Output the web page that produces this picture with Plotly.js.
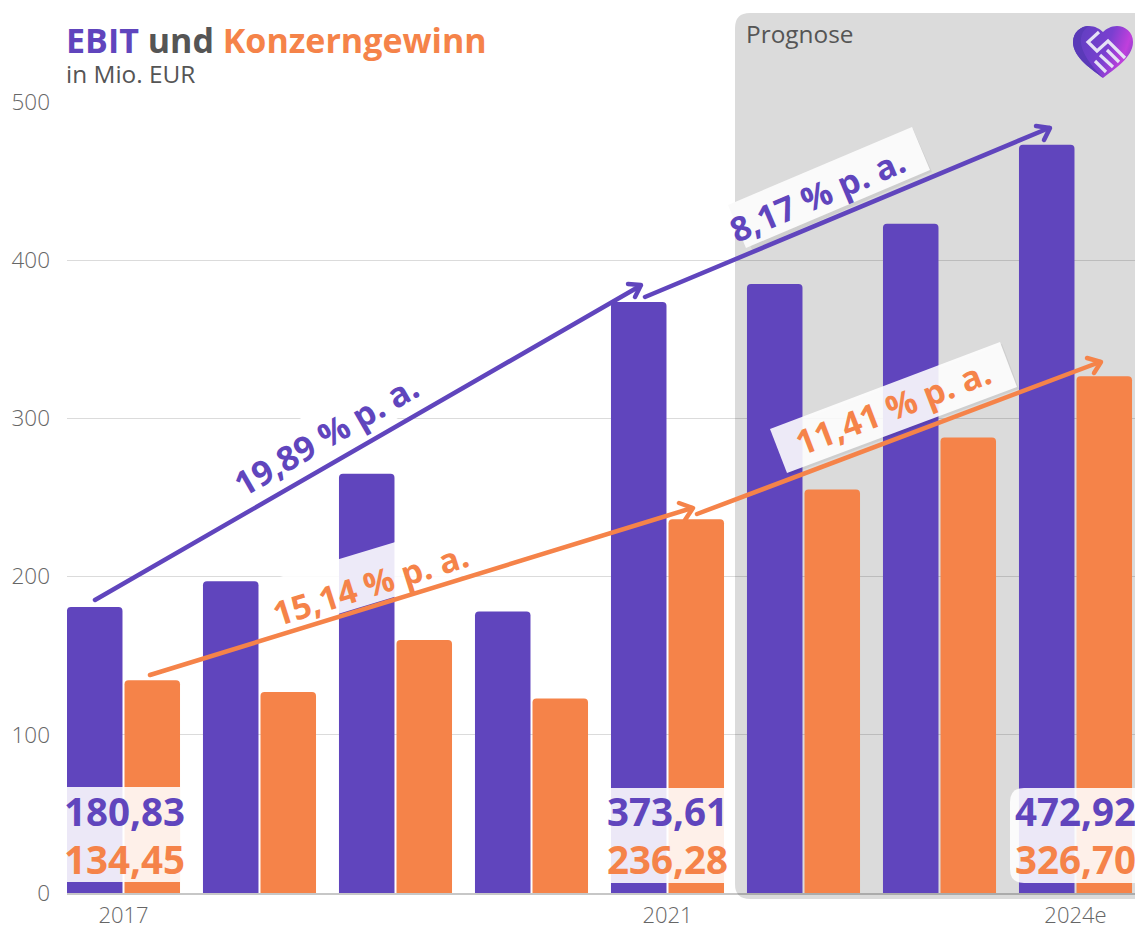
<!DOCTYPE html>
<html>
<head>
<meta charset="utf-8">
<script src="https://cdn.plot.ly/plotly-3.0.1.min.js"></script>
<style>html,body{margin:0;padding:0;background:#fff;overflow:hidden}
.shapelayer path{stroke-linejoin:round;stroke-linecap:round}</style>
</head>
<body>
<div id="chart" style="width:1135px;height:926px"></div>
<script>
var categories = ["2017","2018","2019","2020","2021","2022e","2023e","2024e"];
var ebit = [180.83,197,265,178,373.61,385,423,472.92];
var gewinn = [134.45,127,160,123,236.28,255,288,326.70];
var xTicks = ["2017","2021","2024e"];
var yTicks = [0,100,200,300,400,500];
var ebitLabels = ["180,83","373,61","472,92"];
var gewinnLabels = ["134,45","236,28","326,70"];

var PURPLE="#6045bd", ORANGE="#f58349", W=1135, H=926;
var L=67, B=893, T=102;
function px(x){return (x-L)/(W-L);}
function py(y){return (B-y)/(B-T);}
function pathOf(pts,close){
  return pts.map(function(p,i){return (i?"L":"M")+px(p[0])+" "+py(p[1]);}).join(" ")+(close?" Z":"");
}
function poly(pts,fill){
  return {type:"path",layer:"above",xref:"paper",yref:"paper",path:pathOf(pts,true),fillcolor:fill,line:{width:0}};
}
function stroke(pts,color,w){
  return {type:"path",layer:"above",xref:"paper",yref:"paper",path:pathOf(pts,false),fillcolor:"rgba(0,0,0,0)",line:{color:color,width:w}};
}
function roundBox(x0,y0,x1,y1,r,fill,layer){
  var q=function(a,b){return px(a)+" "+py(b);};
  return {type:"path",layer:layer,xref:"paper",yref:"paper",fillcolor:fill,line:{width:0},
    path:"M"+q(x0+r,y0)+" L"+q(x1,y0)+" L"+q(x1,y1)+" L"+q(x0+r,y1)+" Q"+q(x0,y1)+" "+q(x0,y1-r)+" L"+q(x0,y0+r)+" Q"+q(x0,y0)+" "+q(x0+r,y0)+" Z"};
}
function txt(s,x,y,size,color,opts){
  opts=opts||{};
  return {xref:"paper",yref:"paper",x:px(x),y:py(y),text:s,showarrow:false,
    xanchor:opts.anchor||"center",yanchor:"middle",textangle:opts.angle||0,
    font:{family:"'Open Sans'",size:size,color:color,weight:opts.weight||400},align:"left"};
}

var shapes=[
  roundBox(735,13,1135,899,15,"#dbdbdb","below"),
  // rotated label backgrounds
  poly([[225,462],[400,361],[424,403],[249,504]],"#ffffff"),
  poly([[270,580],[478,517],[493,567],[285,630]],"rgba(255,255,255,0.89)"),
  poly([[735,206],[913,129],[932,172],[752,250]],"rgba(0,0,0,0.06)"),
  poly([[728,205],[912,127],[930,170],[746,248]],"rgba(250,250,250,1)"),
  poly([[772,431],[1002,344],[1019,389],[789,475]],"rgba(0,0,0,0.06)"),
  poly([[770,429],[1000,342],[1017,387],[787,473]],"rgba(255,255,255,0.89)"),
  // value label backgrounds
  poly([[67,787],[180,787],[180,882],[67,882]],"rgba(255,255,255,0.88)"),
  poly([[610,788],[725,788],[725,883],[610,883]],"rgba(255,255,255,0.88)"),
  roundBox(1010,788,1135,883,14,"rgba(255,255,255,0.88)","above"),
  // arrows
  stroke([[95,600],[640,286]],PURPLE,4.5),
  stroke([[628,284],[641,285],[635,297]],PURPLE,4.5),
  stroke([[645,297],[1049,128]],PURPLE,4.5),
  stroke([[1036,126],[1050,128],[1044,140]],PURPLE,4.5),
  stroke([[150,675],[692,508]],ORANGE,4.5),
  stroke([[679,503],[693,508],[685,520]],ORANGE,4.5),
  stroke([[697,514],[1100,362]],ORANGE,4.5),
  stroke([[1087,358],[1101,362],[1094,373]],ORANGE,4.5)
];

var annotations=[
  txt('<span style="color:'+PURPLE+'">EBIT</span> <span style="color:#555">und</span> <span style="color:'+ORANGE+'">Konzerngewinn</span>',64,40,34,"#555",{anchor:"left",weight:700}),
  txt("in Mio. EUR",64,74,24.4,"#555",{anchor:"left"}),
  txt("Prognose",744,34,24.4,"#555",{anchor:"left"}),
  txt("19,89 % p. a.",326,435,34,PURPLE,{angle:-30,weight:700}),
  txt("15,14 % p. a.",370,584,33.5,ORANGE,{angle:-17.5,weight:700}),
  txt("8,17 % p. a.",817,195,34,PURPLE,{angle:-23,weight:700}),
  txt("11,41 % p. a.",893,407,34,ORANGE,{angle:-21,weight:700})
];
var labelX=[124.5,667,1075];
labelX.forEach(function(x,i){
  annotations.push(txt(ebitLabels[i],x,811,38.5,PURPLE,{weight:700}));
  annotations.push(txt(gewinnLabels[i],x,859,38.5,ORANGE,{weight:700}));
});

var logoSvg='<svg xmlns="http://www.w3.org/2000/svg" viewBox="0 0 70 66"><defs><linearGradient id="g" x1="0" y1="0.3" x2="1" y2="0.6"><stop offset="0" stop-color="#5f3fc0"/><stop offset="0.55" stop-color="#7a3fd0"/><stop offset="0.85" stop-color="#c03fdc"/><stop offset="1" stop-color="#8a40cc"/></linearGradient></defs>'+
 '<path fill="url(#g)" d="M38 60C28 52 8 40 8 24C8 14 16 8 24 8C30 8 35 11 38 14C41 11 46 8 52 8C60 8 68 14 68 24C68 40 48 52 38 60Z"/>'+
 '<path fill="#5a3ab8" d="M38 60C28 52 8 40 8 24C8 14 16 8 24 8C17 12 14 20 17 30C20 40 30 52 38 60Z"/>'+
 '<g fill="none" stroke="#e6e1f5" stroke-width="3.2"><path d="M34 14L23 24L32 33L43 23L60 40"/><path d="M30 43L41 54"/><path d="M35 37L48 49"/><path d="M42 32L54 44"/></g></svg>';

var layout={
  width:W,height:H,
  margin:{l:L,r:0,t:T,b:H-B,pad:0},
  paper_bgcolor:"#ffffff",plot_bgcolor:"rgba(0,0,0,0)",
  showlegend:false,
  barmode:"group",bargap:0.154,bargroupgap:0.035,barcornerradius:4,
  font:{family:"'Open Sans'"},
  xaxis:{type:"category",categoryorder:"array",categoryarray:categories,
    range:[-0.4154,7.4375],tickmode:"array",tickvals:xTicks,ticktext:xTicks,
    ticks:"",showgrid:false,zeroline:false,showline:true,linecolor:"rgba(0,0,0,0.22)",linewidth:2,
    tickfont:{family:"'Open Sans'",size:22,color:"#666666",weight:300},ticklabelstandoff:2},
  yaxis:{range:[0,500],tickmode:"array",tickvals:yTicks,
    showgrid:true,gridcolor:"rgba(0,0,0,0.14)",gridwidth:1,zeroline:false,showline:false,ticks:"",
    tickfont:{family:"'Open Sans'",size:22.5,color:"#666666",weight:300},ticklabelstandoff:16},
  shapes:shapes,annotations:annotations,
  images:[{source:"data:image/svg+xml;utf8,"+encodeURIComponent(logoSvg),xref:"paper",yref:"paper",
    x:px(1065),y:py(18),sizex:70/(W-L),sizey:66/(B-T),xanchor:"left",yanchor:"top",sizing:"stretch",layer:"above"}]
};
var traces=[
  {type:"bar",name:"EBIT",x:categories,y:ebit,marker:{color:PURPLE,line:{width:0}},hoverinfo:"skip"},
  {type:"bar",name:"Konzerngewinn",x:categories,y:gewinn,marker:{color:ORANGE,line:{width:0}},hoverinfo:"skip"}
];
Plotly.newPlot("chart",traces,layout,{displayModeBar:false,staticPlot:true});
</script>
</body>
</html>
